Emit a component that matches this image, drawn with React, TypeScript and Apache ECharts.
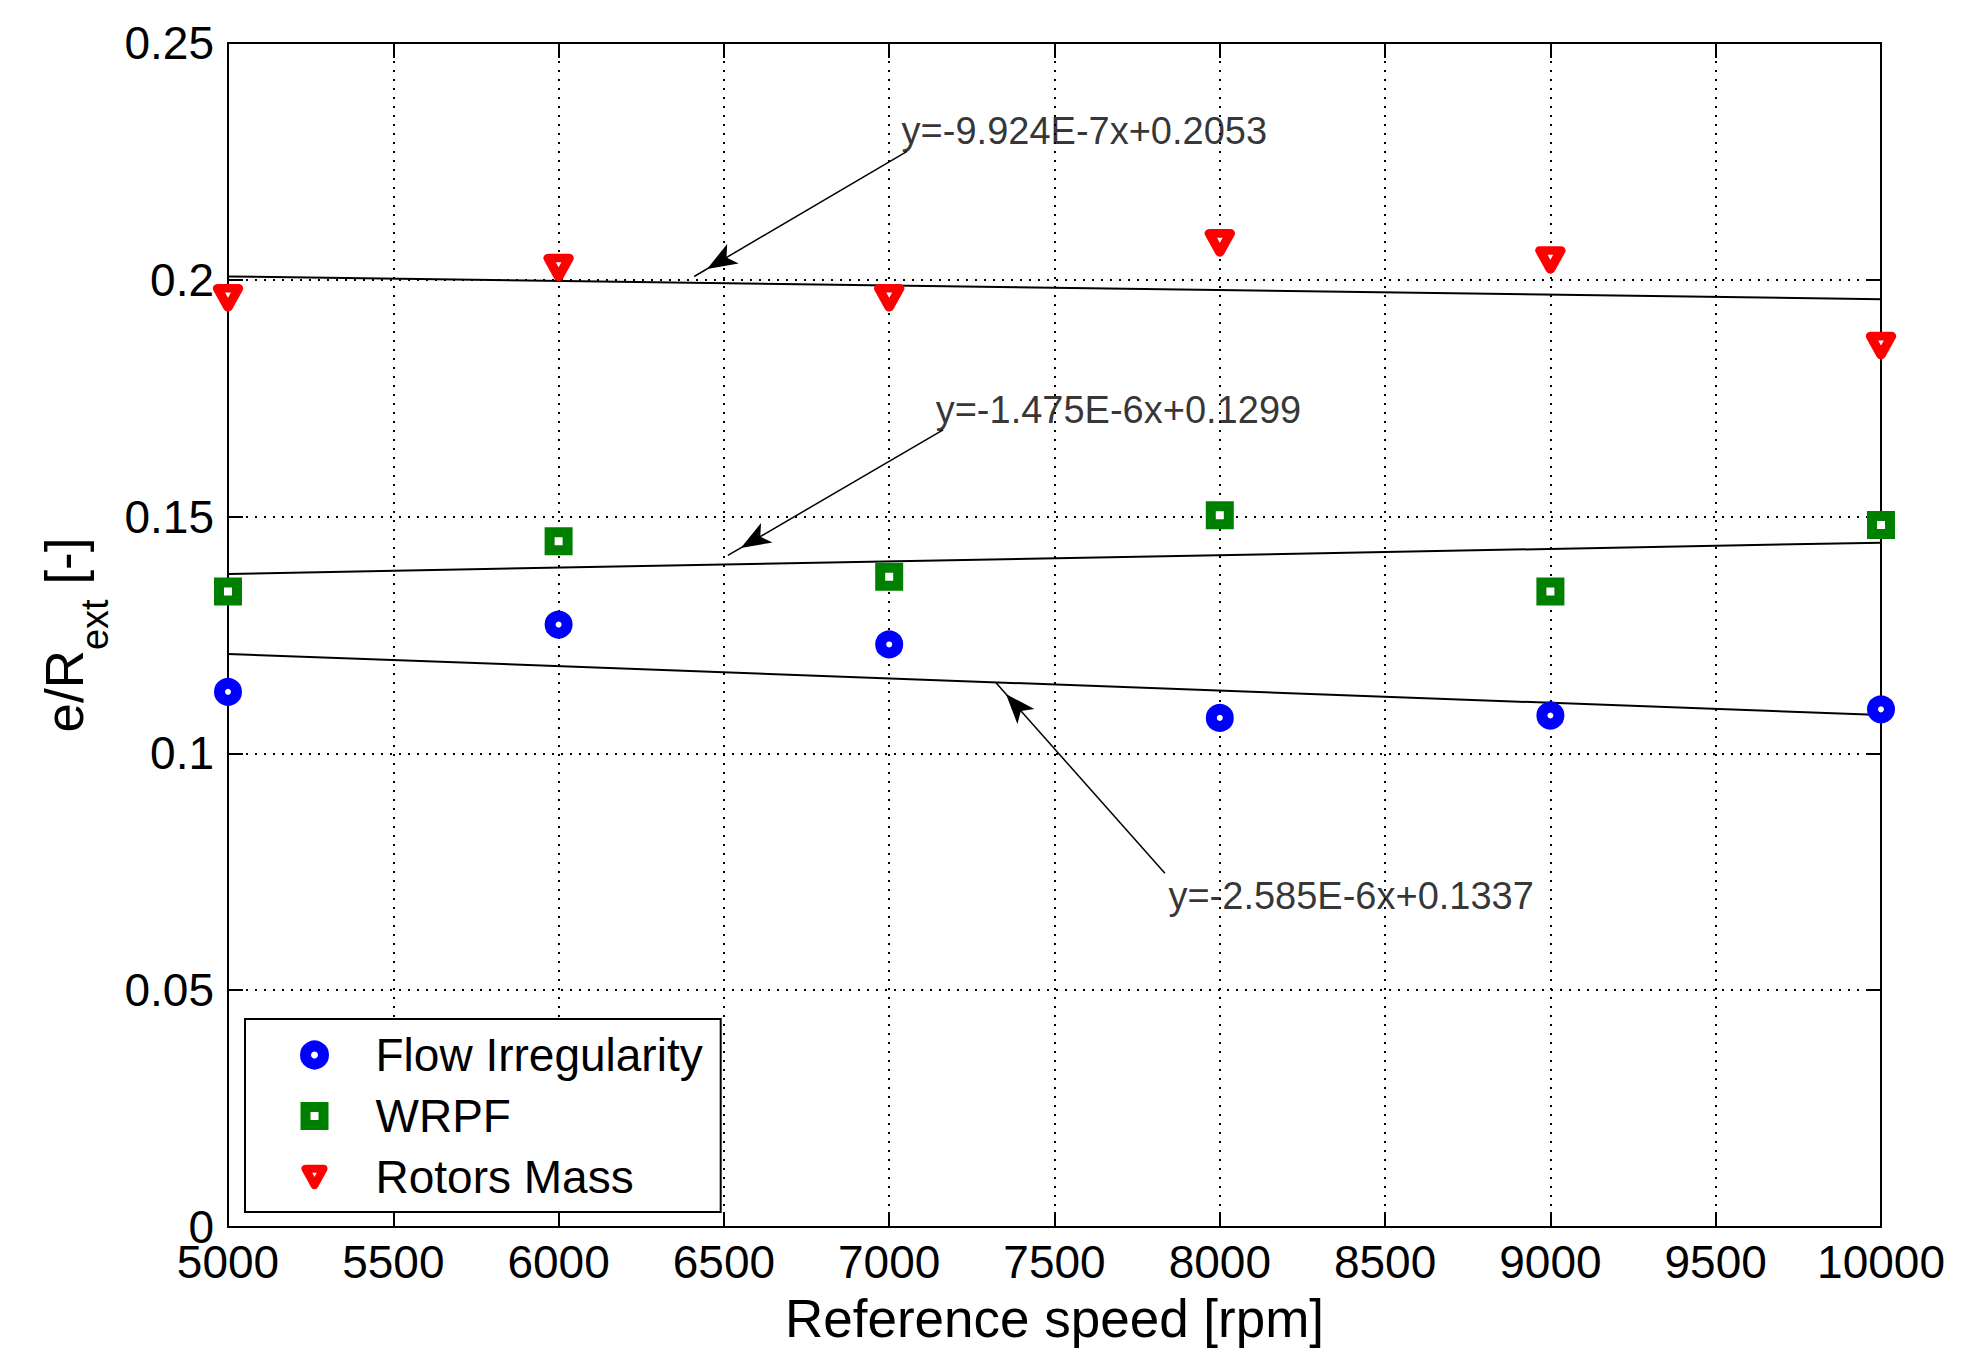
import React, { useEffect, useRef } from "react";
import * as echarts from "echarts";

// ---- data ----
const speeds = [5000, 6000, 7000, 8000, 9000, 10000];
const flowIrregularity = [0.113, 0.1272, 0.123, 0.1075, 0.108, 0.1093];
const wrpf = [0.1342, 0.1448, 0.1373, 0.1503, 0.1342, 0.1482];
const rotorsMass = [0.1962, 0.2026, 0.1962, 0.2078, 0.2042, 0.1861];

const fitX = [5000, 10000];
const rotorsFit = [0.2007, 0.1959];
const wrpfFit = [0.1379, 0.1445];
const flowFit = [0.121, 0.1081];

const annotationTexts = [
  "y=-9.924E-7x+0.2053",
  "y=-1.475E-6x+0.1299",
  "y=-2.585E-6x+0.1337",
];
const annotationTextPos = [
  [7036, 0.2314],
  [7139, 0.1725],
  [7843, 0.0699],
];
const arrowStart = [
  [7054, 0.2271],
  [7163, 0.1683],
  [7834, 0.0747],
];
const arrowEnd = [
  [6410, 0.2007],
  [6512, 0.1418],
  [7323, 0.1149],
];

const xMin = 5000;
const xMax = 10000;
const xStep = 500;
const yMin = 0;
const yMax = 0.25;
const yStep = 0.05;

const downTriangle = "path://M0,0L21,0L10.5,19Z";

export default function App() {
  const ref = useRef<HTMLDivElement>(null);

  useEffect(() => {
    const chart = echarts.init(ref.current!, null, { renderer: "svg" });
    const font = "Liberation Sans, Arial, sans-serif";
    const pairs = (xs: number[], ys: number[]) => xs.map((x, i) => [x, ys[i]]);

    const axisLine = { show: true, onZero: false, lineStyle: { color: "#000", width: 2 } };
    const axisTick = { show: true, inside: true, length: 15, lineStyle: { color: "#000", width: 2 } };
    const gridLine = { show: true, lineStyle: { color: "#000", width: 2, type: [2, 7] } };

    const fitLine = (name: string, ys: number[]) => ({
      type: "line",
      name,
      data: pairs(fitX, ys),
      symbol: "none",
      showSymbol: false,
      silent: true,
      lineStyle: { color: "#000", width: 2 },
      z: 2,
    });

    const option: any = {
      animation: false,
      backgroundColor: "#fff",
      grid: { left: 228, right: 83, top: 43, bottom: 141, containLabel: false },
      xAxis: [
        {
          type: "value",
          min: xMin,
          max: xMax,
          interval: xStep,
          position: "bottom",
          name: "Reference speed [rpm]",
          nameLocation: "middle",
          nameGap: 65,
          nameTextStyle: { fontSize: 53, color: "#000", fontFamily: font },
          axisLine,
          axisTick,
          axisLabel: {
            fontSize: 46,
            lineHeight: 34,
            color: "#000",
            fontFamily: font,
            margin: 18,
            formatter: (v: number) => String(v),
          },
          splitLine: gridLine,
        },
        {
          type: "value",
          min: xMin,
          max: xMax,
          interval: xStep,
          position: "top",
          axisLine,
          axisTick,
          axisLabel: { show: false },
          splitLine: { show: false },
        },
      ],
      yAxis: [
        {
          type: "value",
          min: yMin,
          max: yMax,
          interval: yStep,
          position: "left",
          name: "{a|e/R}{b|ext}{a| [-]}",
          nameLocation: "middle",
          nameRotate: 90,
          nameGap: 125,
          nameTextStyle: {
            fontSize: 53,
            color: "#000",
            fontFamily: font,
            rich: {
              a: { fontSize: 53, lineHeight: 60, verticalAlign: "top", color: "#000", fontFamily: font },
              b: {
                fontSize: 38,
                lineHeight: 38,
                padding: [38, 0, 0, 0],
                verticalAlign: "top",
                color: "#000",
                fontFamily: font,
              },
            },
          },
          axisLine,
          axisTick,
          axisLabel: { fontSize: 46, lineHeight: 34, color: "#000", fontFamily: font, margin: 14 },
          splitLine: gridLine,
        },
        {
          type: "value",
          min: yMin,
          max: yMax,
          interval: yStep,
          position: "right",
          axisLine,
          axisTick,
          axisLabel: { show: false },
          splitLine: { show: false },
        },
      ],
      legend: {
        left: 245,
        top: 1019,
        orient: "vertical",
        itemWidth: 18,
        itemHeight: 18,
        itemGap: 15,
        padding: [13, 18, 12, 55],
        backgroundColor: "#fff",
        borderColor: "#000",
        borderWidth: 2,
        borderRadius: 0,
        selectedMode: false,
        formatter: (name: string) => `{g|}${name}`,
        textStyle: {
          fontSize: 46,
          color: "#000",
          fontFamily: font,
          lineHeight: 46,
          rich: { g: { width: 47, lineHeight: 46 } },
        },
        data: [
          { name: "Flow Irregularity", itemStyle: { borderWidth: 11, opacity: 1 } },
          { name: "WRPF", itemStyle: { borderWidth: 10, opacity: 1 } },
          { name: "Rotors Mass", itemStyle: { borderWidth: 8, borderJoin: "round", opacity: 1 } },
        ],
      },
      series: [
        fitLine("fitRotors", rotorsFit),
        fitLine("fitWrpf", wrpfFit),
        fitLine("fitFlow", flowFit),
        {
          type: "scatter",
          name: "Flow Irregularity",
          data: pairs(speeds, flowIrregularity),
          symbol: "circle",
          symbolSize: 17,
          itemStyle: { color: "#fff", borderColor: "#0000ff", borderWidth: 11, opacity: 1 },
          z: 3,
        },
        {
          type: "scatter",
          name: "WRPF",
          data: pairs(speeds, wrpf),
          symbol: "rect",
          symbolSize: 18,
          itemStyle: { color: "#fff", borderColor: "#008000", borderWidth: 10, opacity: 1 },
          z: 3,
        },
        {
          type: "scatter",
          name: "Rotors Mass",
          data: pairs(speeds, rotorsMass),
          symbol: downTriangle,
          symbolSize: [21, 19],
          itemStyle: {
            color: "#fff",
            borderColor: "#ff0000",
            borderWidth: 9,
            borderJoin: "round",
            opacity: 1,
          },
          z: 3,
        },
        {
          type: "scatter",
          name: "annotations",
          data: annotationTextPos.map((p, i) => ({ value: p, name: annotationTexts[i] })),
          symbolSize: 1,
          itemStyle: { color: "rgba(0,0,0,0)" },
          silent: true,
          label: {
            show: true,
            position: "right",
            distance: 0,
            formatter: "{b}",
            fontSize: 38,
            color: "#000",
            fontFamily: font,
          },
          markLine: {
            silent: true,
            symbol: ["none", "arrow"],
            lineStyle: { color: "#000", width: 1.5, type: "solid" },
            label: { show: false },
            data: arrowStart.map((s, i) => [
              { coord: s, symbol: "none" },
              { coord: arrowEnd[i], symbol: "arrow", symbolSize: [17, 30], symbolOffset: [0, 15] },
            ]),
          },
          z: 4,
        },
      ],
    };

    chart.setOption(option);
    return () => chart.dispose();
  }, []);

  return (
    <div
      ref={ref}
      style={{ position: "fixed", left: 0, top: 0, width: 1964, height: 1368, background: "#fff" }}
    />
  );
}
